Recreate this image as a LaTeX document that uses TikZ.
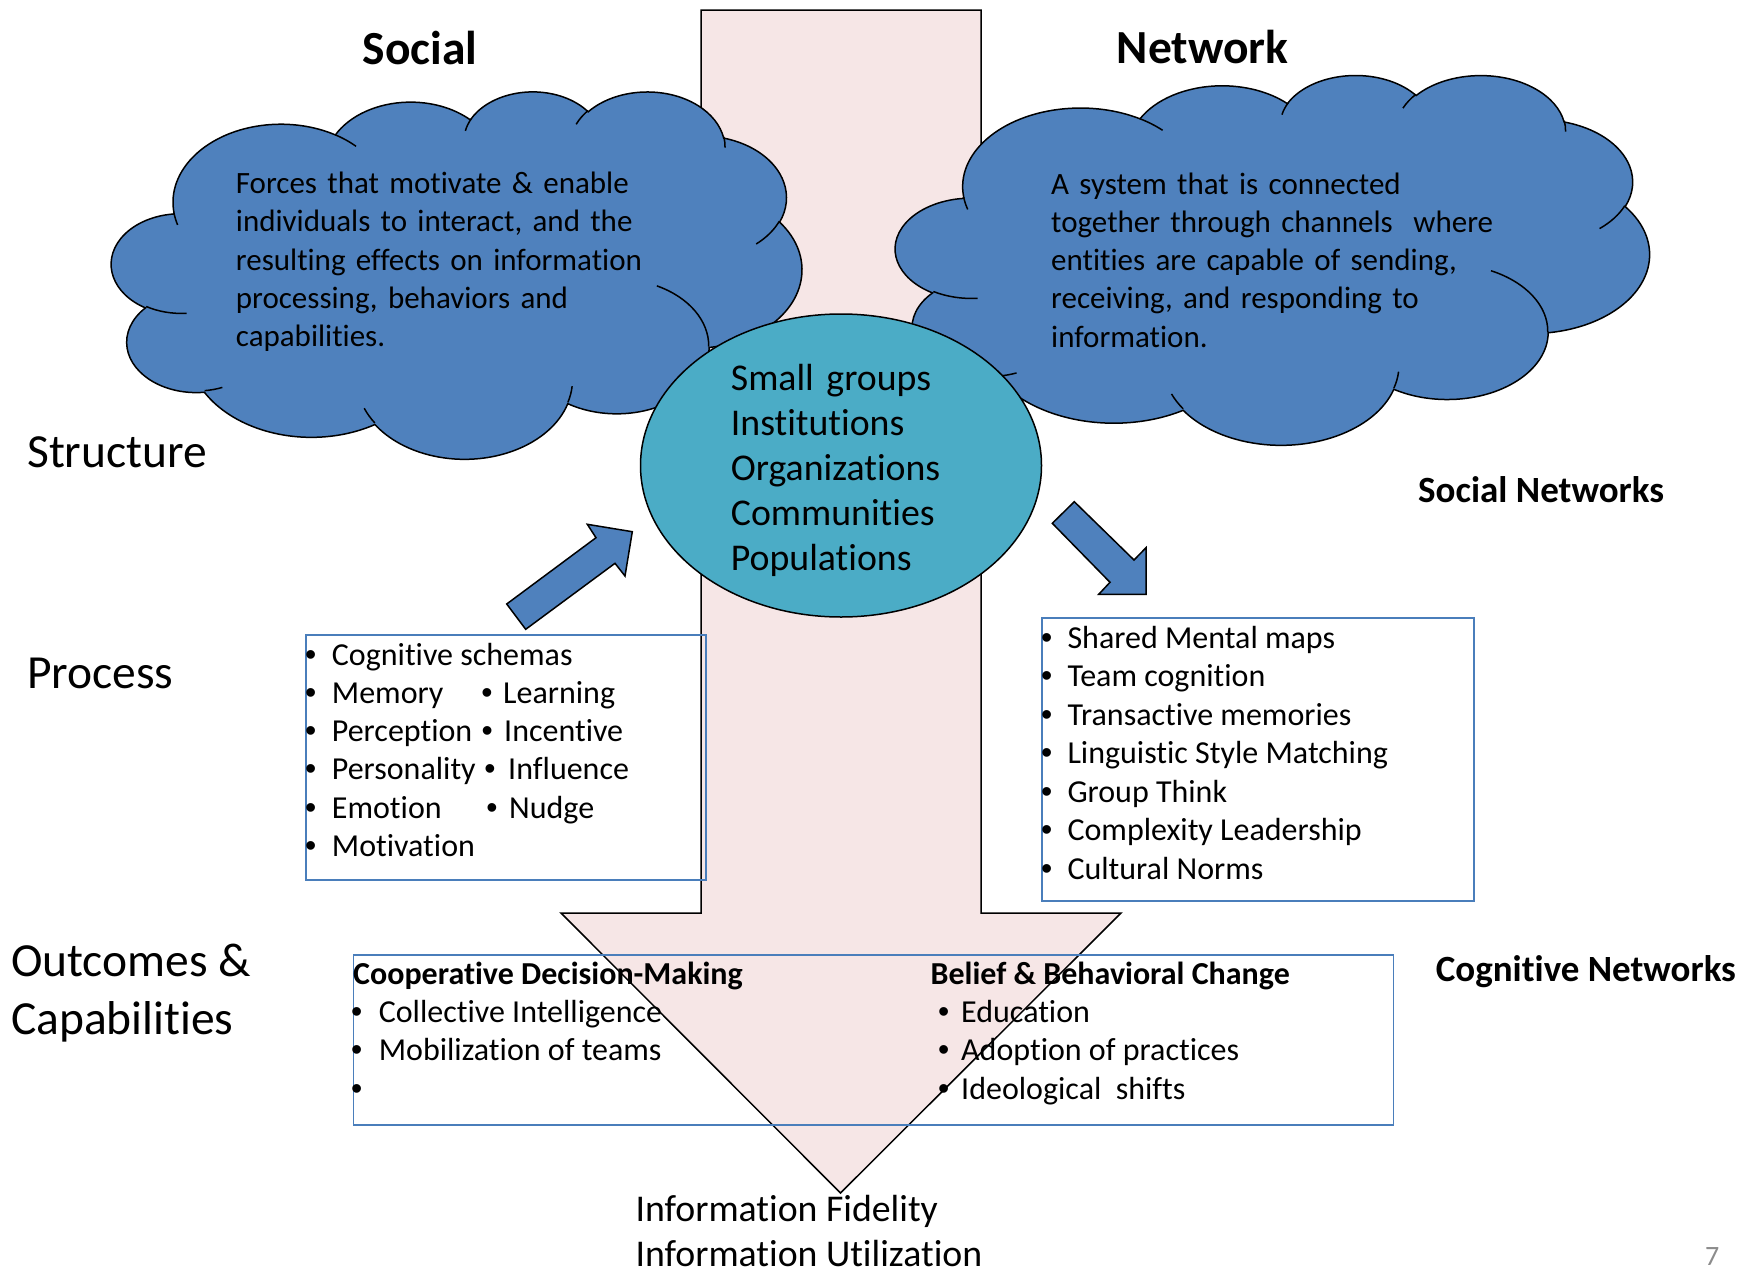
\documentclass[tikz,border=0pt]{standalone}
\usepackage{fontspec}
\setmainfont{Carlito}[Ligatures={NoCommon,NoContextual,NoRare}, Contextuals={NoAlternate}]
\newfontfamily\bulletfont{Liberation Sans}
\usetikzlibrary{shapes.geometric}

\definecolor{cloudblue}{HTML}{4F81BD}
\definecolor{coreteal}{HTML}{4BACC6}
\definecolor{flowpink}{HTML}{F6E6E6}
\definecolor{boxblue}{HTML}{4A7EBB}
\definecolor{pagegray}{HTML}{8C8C8C}

\newcommand{\bodysize}{\fontsize{32}{38.4}\selectfont}
\newcommand{\defsize}{\fontsize{31}{38.3}\selectfont}
\newcommand{\coresize}{\fontsize{37.8}{45}\selectfont}
\newcommand{\netsize}{\fontsize{37}{45}\selectfont}
\newcommand{\levelsize}{\fontsize{47.5}{58}\selectfont}

% office style cloud, drawn in a 432 x 432 box
\newcommand{\officecloud}[4]{%
  \begin{scope}[shift={(#1,#2)}, xscale={#3/432}, yscale={#4/432}]
    \filldraw[cloudpath] (39.00,143.70)
      arc[x radius=67.53, y radius=91.90, start angle=-187.75, end angle=-59.64]
      arc[x radius=53.33, y radius=72.67, start angle=-152.02, end angle=-45.44]
      arc[x radius=43.65, y radius=59.45, start angle=-153.49, end angle=-37.33]
      arc[x radius=48.57, y radius=65.95, start angle=-139.72, end angle=-10.22]
      arc[x radius=53.33, y radius=72.73, start angle=-74.77, end angle=23.21]
      arc[x radius=67.75, y radius=92.20, start angle=-37.52, end angle=81.86]
      arc[x radius=57.85, y radius=78.67, start angle=0.46, end angle=121.98]
      arc[x radius=67.52, y radius=92.15, start angle=16.84, end angle=146.23]
      arc[x radius=77.20, y radius=105.43, start angle=58.98, end angle=150.20]
      arc[x radius=43.60, y radius=59.18, start angle=-276.69, end angle=-136.90]
      arc[x radius=43.45, y radius=59.45, start angle=-239.65, end angle=-95.89]
      -- cycle;
    % inner creases
    \draw[creaseline]
      (46.93,261.77) arc[x radius=43.45, y radius=59.45, start angle=85.55, end angle=120.35]
      (69.28,348.99) arc[x radius=43.60, y radius=59.18, start angle=68.24, end angle=83.31]
      (164.78,390.90) arc[x radius=67.52, y radius=92.15, start angle=146.23, end angle=158.47]
      (288.27,347.51) arc[x radius=67.52, y radius=92.15, start angle=4.74, end angle=16.84]
      (341.29,229.54) arc[x radius=57.85, y radius=78.67, start angle=-64.02, end angle=0.46]
      (417.98,153.54) arc[x radius=53.33, y radius=72.73, start angle=23.21, end angle=49.65]
      (383.24,54.26) arc[x radius=48.57, y radius=65.95, start angle=-10.22, end angle=0.82]
      (290.78,39.52) arc[x radius=48.57, y radius=65.95, start angle=-156.27, end angle=-139.72]
      (221.41,47.20) arc[x radius=43.65, y radius=59.45, start angle=-167.72, end angle=-153.49]
      (140.00,51.92) arc[x radius=67.53, y radius=91.90, start angle=-59.64, end angle=-45.74]
      (41.27,157.89) arc[x radius=67.53, y radius=91.90, start angle=163.19, end angle=172.25];
  \end{scope}}

\begin{document}
\begin{tikzpicture}[x=1pt, y=-1pt,
    cloudpath/.style={draw=black, line width=1.5pt, fill=cloudblue},
    creaseline/.style={draw=black, line width=1.5pt},
    flowarrow/.style={draw=black, line width=1.5pt, fill=flowpink},
    bluearrow/.style={draw=black, line width=1.5pt, fill=cloudblue},
    listbox/.style={draw=boxblue, line width=1.8pt, inner sep=0pt, anchor=north west},
    rowlabel/.style={anchor=base west, inner sep=0pt, font=\levelsize},
    titletext/.style={anchor=base west, inner sep=0pt, font=\levelsize\bfseries},
    netlabel/.style={anchor=base west, inner sep=0pt, font=\netsize\bfseries},
    cloudtext/.style={anchor=base west, inner sep=0pt, text width=540, align=left, font=\defsize},
    coretext/.style={anchor=base west, inner sep=0pt, text width=270, align=left, font=\coresize},
    listentry/.style={anchor=base west, inner sep=0pt, font=\bodysize},
    bulletdot/.style={anchor=base, inner sep=0pt, font=\bodysize\bulletfont}]
\useasboundingbox[fill=white] (0,0) rectangle (1760,1274);

% the big downward arrow
\filldraw[flowarrow] (701,10) -- (981,10) -- (981,913) -- (1121,913) -- (840.5,1193)
  -- (561,913) -- (701,913) -- cycle;

% clouds and the core
\officecloud{111.7}{90.7}{690}{367.3}
\officecloud{895.7}{74.3}{753.6}{369.7}
\node[ellipse, draw=black, line width=1.5pt, fill=coreteal, inner sep=0pt,
  minimum width=401, minimum height=303] (core) at (841,465.5) {};

\node[titletext] (socialtitle) at (362.5,64) {Social};
\node[titletext] (networktitle) at (1116.7,63.5) {Network};
\node[cloudtext] (socialdef) at (235.7,193.5) {Forces that motivate \& enable\\individuals to interact, and the\\resulting effects on information\\processing, behaviors and\\capabilities.};
\node[cloudtext] (networkdef) at (1051,194) {A system that is connected\\together through channels\ \ where\\entities are capable of sending,\\receiving, and responding to\\information.};
\node[coretext] (coreunits) at (730.7,390) {Small groups\\Institutions\\Organizations\\Communities\\Populations};

% row labels
\node[rowlabel] (structure) at (27,467) {Structure};
\node[rowlabel] (process) at (27,688) {Process};
\node[rowlabel] (outcomes) at (11,976) {Outcomes \&};
\node[rowlabel] (capabilities) at (11,1034) {Capabilities};
\node[netlabel] (socialnets) at (1418,502) {Social Networks};
\node[netlabel] (cognets) at (1435.6,981) {Cognitive Networks};

% small block arrows
\filldraw[bluearrow] (506.7,604) -- (596,537.7) -- (587.3,524.3) -- (632.3,531.7)
  -- (625,576) -- (615,563.3) -- (525.7,629.3) -- cycle;
\filldraw[bluearrow] (1074.3,501.7) -- (1134,560) -- (1146,547.7) -- (1146,594.3)
  -- (1098.7,594.3) -- (1110,582.3) -- (1052.3,523.3) -- cycle;

% process box
\node[listbox, minimum width=400, minimum height=245] (procbox) at (305,634) {};
\foreach \entry [count=\k] in {Cognitive schemas, Memory, Perception, Personality, Emotion, Motivation} {
  \node[bulletdot] (procdot\k) at (310.7,{665+38.3*(\k-1)}) {\textbullet};
  \node[listentry] (proc\k) at (331.7,{665+38.3*(\k-1)}) {\entry};
}
\foreach \bx/\tx/\k/\entry in {487/503/2/Learning, 487.3/504/3/Incentive, 490/508/4/Influence, 492/509/5/Nudge} {
  \node[bulletdot] (procdotb\k) at (\bx,{665+38.3*(\k-1)}) {\textbullet};
  \node[listentry] (procb\k) at (\tx,{665+38.3*(\k-1)}) {\entry};
}

% social networks box
\node[listbox, minimum width=432, minimum height=283] (netbox) at (1041,617) {};
\foreach \entry [count=\k] in {Shared Mental maps, Team cognition, Transactive memories, Linguistic Style Matching, Group Think, Complexity Leadership, Cultural Norms} {
  \node[bulletdot] (netdot\k) at (1046.7,{648.2+38.5*(\k-1)}) {\textbullet};
  \node[listentry] (net\k) at (1067.3,{648.2+38.5*(\k-1)}) {\entry};
}

% outcomes box
\node[listbox, minimum width=1040, minimum height=170.3] (outbox) at (352.6,954) {};
\node[listentry, font=\bodysize\bfseries] (coophead) at (353,984) {Cooperative Decision-Making};
\node[listentry, font=\bodysize\bfseries] (beliefhead) at (930.4,984) {Belief \& Behavioral Change};
\foreach \k in {1,2,3} {
  \node[bulletdot] (coopdot\k) at (356.8,{1022.5+38.3*(\k-1)}) {\textbullet};
  \node[bulletdot] (beliefdot\k) at (943.7,{1022.5+38.3*(\k-1)}) {\textbullet};
}
\foreach \entry [count=\k] in {Collective Intelligence, Mobilization of teams} {
  \node[listentry] (coop\k) at (378.6,{1022.5+38.3*(\k-1)}) {\entry};
}
\foreach \entry [count=\k] in {Education, Adoption of practices, Ideological\ \ shifts} {
  \node[listentry] (belief\k) at (961,{1022.5+38.3*(\k-1)}) {\entry};
}

% bottom of the arrow
\node[listentry, font=\coresize] (fidelity) at (635.3,1221) {Information Fidelity};
\node[listentry, font=\coresize] (utilization) at (635.3,1266.5) {Information Utilization};
\node[listentry, font=\fontsize{28}{34}\selectfont, text=pagegray] (pagenum) at (1705,1265) {7};
\end{tikzpicture}
\end{document}
